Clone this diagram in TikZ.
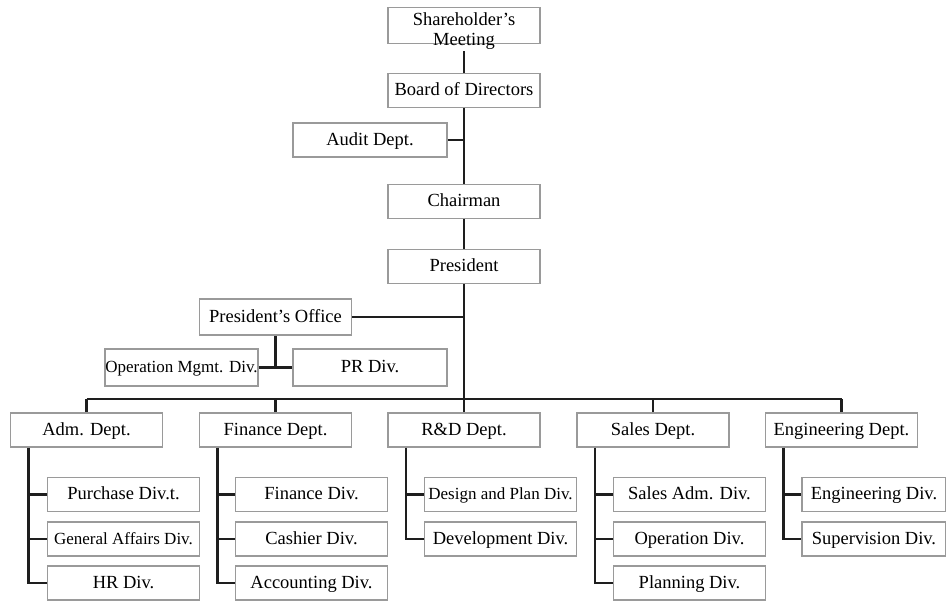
\documentclass[tikz,border=0pt]{standalone}
\usepackage{fontspec}
\setmainfont{Liberation Serif}
\definecolor{boxgray}{HTML}{9A9A9A}
\definecolor{linkblack}{HTML}{1E1E1E}
\tikzset{
  box/.style={draw=boxgray, line width=1.9pt, fill=white, inner sep=0pt,
    minimum width=152pt, minimum height=34pt, text height=12.5pt, text depth=2pt,
    font=\fontsize{18.5}{20}\selectfont},
  smalltext/.style={font=\fontsize{17}{20}\selectfont},
  link/.style={draw=linkblack, line width=2.3pt},
}
\begin{document}
\begin{tikzpicture}[x=1pt,y=-1pt]
\fill[white] (0,0) rectangle (946,602);
\useasboundingbox (0,0) rectangle (946,602);

% top chain
\node[box, minimum height=36pt] (sh) at (464,25.5) {};
\node[font=\fontsize{18.5}{20}\selectfont, align=center, inner sep=0pt, outer sep=2pt] (shT) at (464,31) {Shareholder’s\\Meeting};
\node[box] (bod) at (464,90.5) {Board of Directors};
\node[box, minimum width=154pt] (audit) at (370,140) {Audit Dept.};
\node[box] (chair) at (464,201.5) {Chairman};
\node[box] (pres) at (464,266.5) {President};
\node[box, minimum height=36pt] (poff) at (275.5,317) {President’s Office};
\node[box, smalltext, minimum height=37pt] (opm) at (181.5,367.5) {Operation Mgmt. Div.};
\node[box, minimum height=37pt, minimum width=154pt] (pr) at (370,367.5) {PR Div.};

% departments
\node[box] (adm) at (86.5,430) {Adm. Dept.};
\node[box] (fin) at (275.5,430) {Finance Dept.};
\node[box] (rd) at (464,430) {R\&D Dept.};
\node[box] (sales) at (653,430) {Sales Dept.};
\node[box] (eng) at (841.5,430) {Engineering Dept.};

% divisions
\node[box] (admA) at (123.5,494.5) {Purchase Div.t.};
\node[box, smalltext] (admB) at (123.5,539) {General Affairs Div.};
\node[box] (admC) at (123.5,583) {HR Div.};
\node[box] (finA) at (311.5,494.5) {Finance Div.};
\node[box] (finB) at (311.5,539) {Cashier Div.};
\node[box] (finC) at (311.5,583) {Accounting Div.};
\node[box, smalltext] (rdA) at (500.5,494.5) {Design and Plan Div.};
\node[box] (rdB) at (500.5,539) {Development Div.};
\node[box] (salesA) at (689.5,494.5) {Sales Adm. Div.};
\node[box] (salesB) at (689.5,539) {Operation Div.};
\node[box] (salesC) at (689.5,583) {Planning Div.};
\node[box, minimum width=144pt] (engA) at (874,494.5) {Engineering Div.};
\node[box, minimum width=144pt] (engB) at (874,539) {Supervision Div.};

% connectors: top chain
\draw[link] (shT.south) -- (bod.north);
\draw[link] (bod.south) -- (chair.north);
\coordinate (auditJ) at (bod.south |- audit.east);
\draw[link] (audit.east) -- (auditJ);
\draw[link] (chair.south) -- (pres.north);
\draw[link] (pres.south) -- (rd.north);
\coordinate (poffJ) at (poff.east -| pres.south);
\draw[link] (poff.east) -- (poffJ);
\coordinate (pJ) at (poff.south |- opm.east);
\draw[link] (poff.south) -- (pJ);
\draw[link] (opm.east) -- (pr.west);

% bus
\coordinate (bus) at (0,399);
\draw[link] (adm.north |- bus) -- (eng.north |- bus);
\foreach \d in {adm,fin,sales,eng}{
  \draw[link] (\d.north) -- (\d.north |- bus);
}

% division columns
\foreach \d/\subs in {adm/{A,B,C}, fin/{A,B,C}, rd/{A,B}, sales/{A,B,C}, eng/{A,B}}{
  \coordinate (\d L) at ([xshift=19pt]\d.south west);
  \foreach \s in \subs {
    \draw[link] (\d L) |- (\d\s.west);
  }
}
\end{tikzpicture}
\end{document}
